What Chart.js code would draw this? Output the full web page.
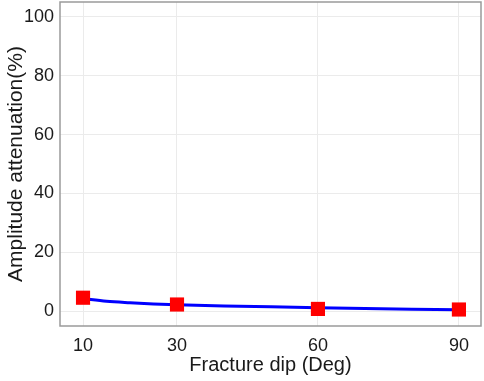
<!DOCTYPE html>
<html>
<head>
<meta charset="utf-8">
<script src="https://cdn.jsdelivr.net/npm/chart.js@4"></script>
<style>
  body { margin: 0; background: #fff; }
  #wrap { width: 484px; height: 381px; }
</style>
</head>
<body>
<div id="wrap"><canvas id="dipChart"></canvas></div>
<script>
// measured points
const dipDeg = [10, 30, 60, 90];
const attenuation = [4.6, 2.3, 0.8, 0.6];

// fitted curve
const fitDip = [10, 15, 20, 25, 30, 40, 50, 60, 70, 80, 90];
const fitAtt = [4.3, 3.4, 2.9, 2.5, 2.2, 1.8, 1.5, 1.2, 0.9, 0.7, 0.5];

const xTicks = [10, 30, 60, 90];
const yTicks = [0, 20, 40, 60, 80, 100];

const panelBorder = {
    id: 'panelBorder',
    afterDraw(chart) {
        const { ctx, chartArea: a } = chart;
        ctx.save();
        ctx.strokeStyle = '#9a9a9a';
        ctx.lineWidth = 1.5;
        ctx.strokeRect(a.left, a.top, a.right - a.left, a.bottom - a.top);
        ctx.restore();
    }
};

// no extra room for half tick labels at the panel ends
const noPad = () => ({ left: 0, top: 0, right: 0, bottom: 0 });

const family = 'Liberation Sans, Arial, sans-serif';
const tickFont = { family: family, size: 18 };

new Chart(document.getElementById('dipChart'), {
    type: 'scatter',
    data: {
        datasets: [
            {
                label: 'fit',
                type: 'line',
                data: fitDip.map((x, i) => ({ x: x, y: fitAtt[i] })),
                borderColor: '#0000ff',
                borderWidth: 3,
                pointRadius: 0,
                cubicInterpolationMode: 'monotone',
                order: 2
            },
            {
                label: 'data',
                data: dipDeg.map((x, i) => ({ x: x, y: attenuation[i] })),
                backgroundColor: '#ff0000',
                borderColor: '#ff0000',
                borderWidth: 0,
                pointStyle: 'rect',
                pointRadius: 10,
                pointHoverRadius: 10,
                order: 1
            }
        ]
    },
    options: {
        responsive: true,
        maintainAspectRatio: false,
        animation: false,
        layout: { autoPadding: false, padding: { top: 2, right: 3, left: 0, bottom: 0 } },
        plugins: { legend: { display: false }, tooltip: { enabled: false } },
        scales: {
            x: {
                type: 'linear',
                min: 5.1,
                max: 94.7,
                afterBuildTicks: s => { s.ticks = xTicks.map(v => ({ value: v })); },
                afterFit: s => { s.height = 55; s.getPadding = noPad; },
                grid: { color: '#ebebeb', drawTicks: false },
                border: { display: false },
                ticks: { color: '#1a1a1a', font: tickFont, padding: 9, maxRotation: 0 },
                title: { display: true, text: 'Fracture dip (Deg)', color: '#1a1a1a', font: { family: family, size: 20 }, padding: { top: 1 } }
            },
            y: {
                min: -5,
                max: 105,
                afterBuildTicks: s => { s.ticks = yTicks.map(v => ({ value: v })); },
                afterFit: s => { s.width = 60; s.getPadding = noPad; },
                grid: { color: '#ebebeb', drawTicks: false },
                border: { display: false },
                ticks: { color: '#1a1a1a', font: tickFont, padding: 6 },
                title: { display: true, text: 'Amplitude attenuation(%)', color: '#1a1a1a', font: { family: family, size: 21 }, padding: { bottom: 2 } }
            }
        }
    },
    plugins: [panelBorder]
});
</script>
</body>
</html>
